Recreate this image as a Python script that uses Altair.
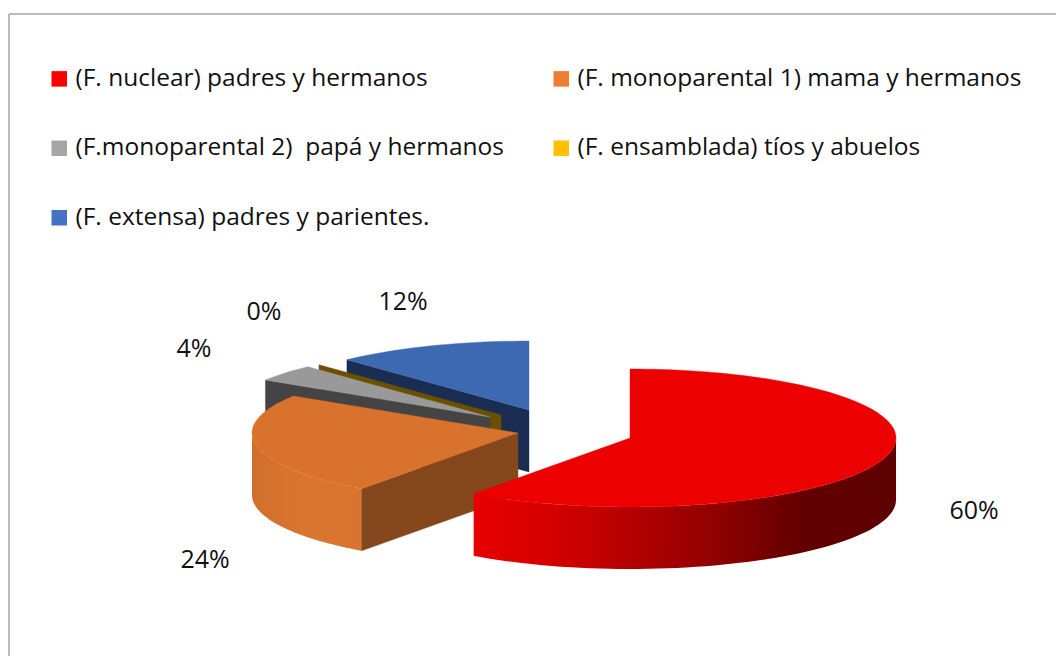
import math
import altair as alt
import pandas as pd

# ---- data -------------------------------------------------------------
CATEGORIES = [
    "(F. nuclear) padres y hermanos",
    "(F. monoparental 1) mama y hermanos",
    "(F.monoparental 2) \u00a0papá y hermanos",
    "(F. ensamblada) tíos y abuelos",
    "(F. extensa) padres y parientes.",
]
VALUES = [60, 24, 4, 0, 12]
LABELS = ["60%", "24%", "4%", "0%", "12%"]
LEGEND_COLORS = ["#FF0000", "#ED7D31", "#A5A5A5", "#FFC000", "#4472C4"]
LEGEND_ORDER = [0, 2, 4, 1, 3]  # the legend fills column by column

# ---- 3-D look ----------------------------------------------------------
TOP_COLORS = ["#EC0000", "#D9722D", "#999999", "#FFC000", "#3D69B2"]
WALL_COLORS = ["#6E0000", "#84471C", "#444444", "#6B5000", "#1A2D52"]
RIM_STOPS = [
    [("#E80000", 0), ("#D60000", 0.18), ("#B80000", 0.35), ("#950000", 0.55),
     ("#620000", 0.78), ("#5E0000", 1)],
    [("#D06E2C", 0), ("#DB7630", 0.5), ("#D8742F", 1)],
    None, None, None,
]
APEX_X = [622, 510, 482, 493, 521]
APEX_Y = [430, 425, 409, 407, 402]
RX, RY, DEPTH = 266, 69, 62
DRAW_ORDER = [4, 3, 2, 1, 0]
LABEL_NUDGE_X = [344, -313, -296, -237, -126]
LABEL_NUDGE_Y = [73, 127, -68, -103, -108]

W, H = 1048, 648
FONT = "Open Sans"


def rim(i, deg, drop=0):
    t = math.radians(deg)
    return [APEX_X[i] + RX * math.sin(t), APEX_Y[i] - RY * math.cos(t) + drop]


def shape(points, fill):
    ring = points + [points[0]]
    feature = {
        "type": "Feature",
        "properties": {},
        "geometry": {"type": "Polygon", "coordinates": [ring]},
    }
    data = alt.InlineData(
        values={"type": "FeatureCollection", "features": [feature]},
        format=alt.DataFormat(type="json", property="features"),
    )
    if isinstance(fill, str):
        mark = alt.Chart(data).mark_geoshape(fill=fill, stroke=fill, strokeWidth=0.4)
    else:
        mark = alt.Chart(data).mark_geoshape(fill=fill, strokeWidth=0)
    return mark.encode().properties(
        projection=alt.Projection(type="identity", scale=1, translate=[0, 0])
    )


starts = []
total = 0
for v in VALUES:
    starts.append(total * 3.6)
    total += v

layers = []

# legend carrier: tiny squares hidden under the largest slice
legend_df = pd.DataFrame({"categoria": CATEGORIES})
layers.append(
    alt.Chart(legend_df)
    .mark_square(size=1, opacity=1)
    .encode(
        x=alt.value(APEX_X[0] + 50),
        y=alt.value(APEX_Y[0]),
        color=alt.Color(
            "categoria:N",
            sort=[CATEGORIES[k] for k in LEGEND_ORDER],
            scale=alt.Scale(
                domain=[CATEGORIES[k] for k in LEGEND_ORDER],
                range=[LEGEND_COLORS[k] for k in LEGEND_ORDER],
            ),
            legend=alt.Legend(
                title=None,
                orient="none",
                legendX=39,
                legendY=58.5,
                columns=2,
                symbolType="square",
                symbolSize=240,
                symbolStrokeWidth=0,
                labelFont=FONT,
                labelFontSize=24.5,
                labelColor="#111111",
                labelLimit=520,
                labelOffset=4,
                rowPadding=44.5,
                columnPadding=45,
                gridAlign="each",
            ),
        ),
    )
)

for i in DRAW_ORDER:
    a0 = starts[i]
    a1 = starts[i] + VALUES[i] * 3.6
    apex = [APEX_X[i], APEX_Y[i]]
    # outer wall, front part only
    lo, hi = max(a0, 90), min(a1, 270)
    if hi > lo and RIM_STOPS[i]:
        degs = [lo + (hi - lo) * k / 60 for k in range(61)]
        outer = [rim(i, d) for d in degs] + [rim(i, d, DEPTH) for d in reversed(degs)]
        grad = alt.LinearGradient(
            gradient="linear",
            x1=1 if i == 0 else 0, x2=0 if i == 0 else 1, y1=0, y2=0,
            stops=[alt.GradientStop(color=c, offset=(1 - o) if i == 0 else o)
                   for c, o in (reversed(RIM_STOPS[i]) if i == 0 else RIM_STOPS[i])],
        )
        layers.append(shape(outer, grad))
    # cut wall facing the viewer
    if 180 < a0 < 360:
        r = rim(i, a0)
        layers.append(shape(
            [apex, r, [r[0], r[1] + DEPTH], [apex[0], apex[1] + DEPTH]],
            WALL_COLORS[i],
        ))
    # top face
    if VALUES[i] > 0:
        n = max(4, int(VALUES[i] * 2))
        pts = [apex] + [rim(i, a0 + (a1 - a0) * k / n) for k in range(n + 1)]
        layers.append(shape(pts, TOP_COLORS[i]))

# percentage labels
label_df = pd.DataFrame({
    "t": LABELS,
    "x": [APEX_X[i] + LABEL_NUDGE_X[i] for i in range(5)],
    "y": [APEX_Y[i] + LABEL_NUDGE_Y[i] for i in range(5)],
})
sx = alt.Scale(domain=[0, W], range=[0, W])
sy = alt.Scale(domain=[0, H], range=[0, H])
layers.append(
    alt.Chart(label_df)
    .mark_text(font=FONT, fontSize=25, color="#111111", align="center", baseline="middle")
    .encode(
        x=alt.X("x:Q", scale=sx, axis=None),
        y=alt.Y("y:Q", scale=sy, axis=None),
        text="t:N",
    )
)

# chart-area border (runs off the right and bottom of the picture)
border_df = pd.DataFrame({"k": [0]})
layers.append(
    alt.Chart(border_df).mark_rule(color="#A6A6A6", strokeWidth=1.5)
    .encode(x=alt.value(1), y=alt.value(6), y2=alt.value(H))
)
layers.append(
    alt.Chart(border_df).mark_rule(color="#A6A6A6", strokeWidth=1.5)
    .encode(x=alt.value(1), x2=alt.value(W), y=alt.value(6))
)

chart = (
    alt.layer(*layers)
    .resolve_scale(x="shared", y="shared")
    .properties(
        width=W, height=H, padding=0,
        autosize=alt.AutoSizeParams(type="none"),
        background="white",
    )
    .configure_view(stroke=None)
)

chart.save("out.html", embed_options={"renderer": "svg", "actions": False})
